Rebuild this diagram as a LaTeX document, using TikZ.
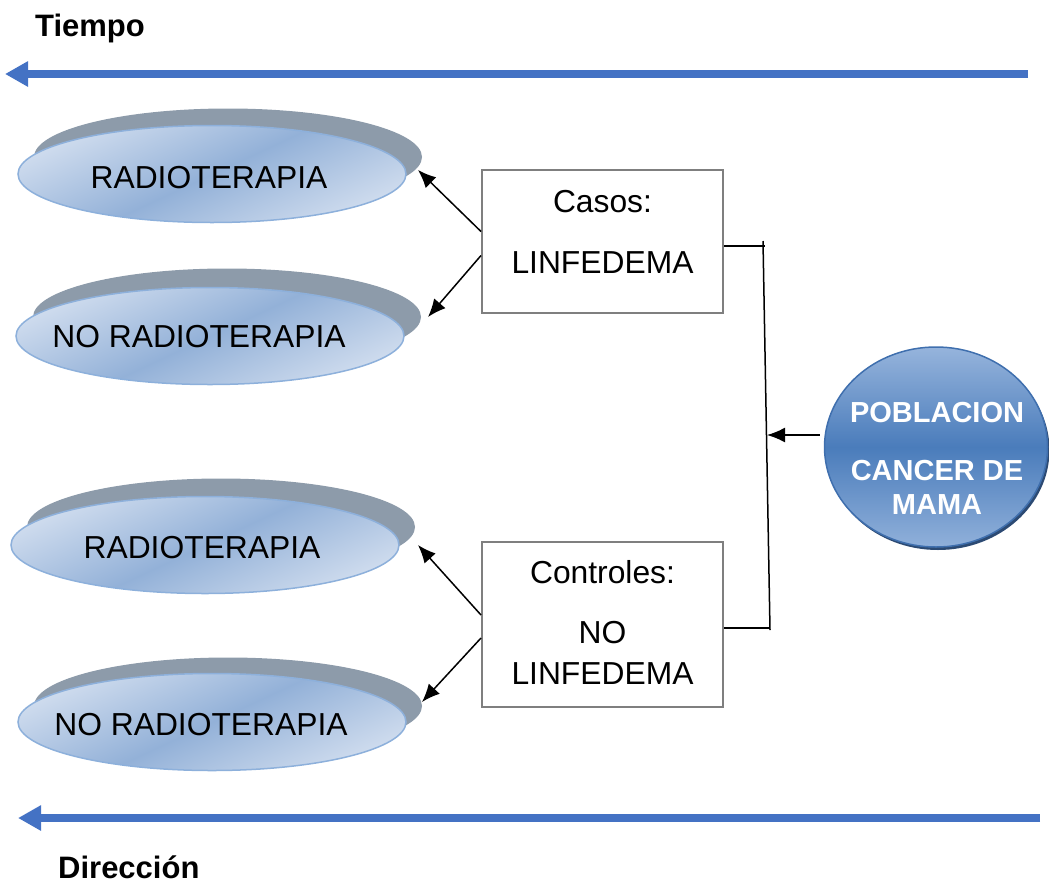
\documentclass[tikz,border=0pt]{standalone}
\usepackage{fontspec}
\setmainfont{Liberation Sans}
\usetikzlibrary{shapes.geometric,arrows.meta,calc}
\definecolor{barblue}{HTML}{4472C4}
\definecolor{shgray}{HTML}{8D9BAA}
\definecolor{elldark}{HTML}{93B1D8}
\definecolor{elllight}{HTML}{CFDCEE}
\definecolor{ellborder}{HTML}{8DB0DB}
\definecolor{popdark}{HTML}{4A7CBB}
\definecolor{poptop}{HTML}{96B4DC}
\definecolor{popbot}{HTML}{90B0DA}
\definecolor{popborder}{HTML}{3F6FAE}
\definecolor{popshadow}{HTML}{2C4A73}
\definecolor{boxgray}{HTML}{7F7F7F}
\tikzset{
  bigtxt/.style={font=\fontsize{31.8pt}{37pt}\selectfont, inner sep=0pt, anchor=base},
  boldtxt/.style={font=\fontsize{31pt}{37pt}\selectfont\bfseries, inner sep=0pt},
  poptxt/.style={font=\fontsize{29pt}{35pt}\selectfont\bfseries, text=white, inner sep=0pt, anchor=base},
  ellshadow/.style={ellipse, fill=shgray, minimum width=388pt, minimum height=97pt, inner sep=0pt},
  ellmain/.style={ellipse, draw=ellborder, line width=1.5pt, top color=elllight, bottom color=elllight, middle color=elldark, shading angle=25, minimum width=388pt, minimum height=97pt, inner sep=0pt},
  boxstyle/.style={rectangle, draw=boxgray, line width=2pt, minimum width=241pt, inner sep=0pt},
  bluearrow/.style={barblue, line width=8pt, -{Triangle[length=23pt,width=24pt]}},
  blackarrow/.style={black, line width=1.5pt, -{Latex[length=18pt,width=15pt]}},
  blackline/.style={black, line width=1.5pt},
}
\begin{document}
\begin{tikzpicture}[x=1pt,y=-1pt]
\useasboundingbox (0,0) rectangle (1049,884);

% time arrows
\node[boldtxt, anchor=base west] (tiempo) at (35,36) {Tiempo};
\coordinate (topR) at (1028,74);
\coordinate (topL) at (5,74);
\draw[bluearrow] (topR) -- (topL);
\coordinate (botR) at (1040,818);
\coordinate (botL) at (18,818);
\draw[bluearrow] (botR) -- (botL);
\node[boldtxt, anchor=base west] (direccion) at (58,878) {Dirección};

% ellipses
\node[ellshadow] (s1) at (228,157) {};
\node[ellmain] (e1) at (212,174) {};
\node[bigtxt] (t1) at (209,188) {RADIOTERAPIA};

\node[ellshadow] (s2) at (227,317) {};
\node[ellmain] (e2) at (210,336) {};
\node[bigtxt] (t2) at (199,347) {NO RADIOTERAPIA};

\node[ellshadow] (s3) at (221,527) {};
\node[ellmain] (e3) at (205,545) {};
\node[bigtxt] (t3) at (202,558) {RADIOTERAPIA};

\node[ellshadow] (s4) at (228,706) {};
\node[ellmain] (e4) at (212,722) {};
\node[bigtxt] (t4) at (201,735) {NO RADIOTERAPIA};

% boxes
\node[boxstyle, minimum height=143pt] (casos) at (602.5,241.5) {};
\node[bigtxt] (casosA) at (602.5,212) {Casos:};
\node[bigtxt] (casosB) at (602.5,273) {LINFEDEMA};

\node[boxstyle, minimum height=165pt] (ctrl) at (602.5,624.5) {};
\node[bigtxt] (ctrlA) at (602.5,583) {Controles:};
\node[bigtxt] (ctrlB) at (602.5,643) {NO};
\node[bigtxt] (ctrlC) at (602.5,684) {LINFEDEMA};

% population circle
\node[ellipse, fill=popshadow, minimum width=223pt, minimum height=200pt, inner sep=0pt] (popsh) at (938,450) {};
\node[ellipse, draw=popborder, line width=1.5pt, top color=poptop, bottom color=popbot, middle color=popdark, minimum width=223pt, minimum height=200pt, inner sep=0pt] (pop) at (936,447) {};
\node[poptxt] (popA) at (937,422) {POBLACION};
\node[poptxt] (popB) at (937,480) {CANCER DE};
\node[poptxt] (popC) at (937,514) {MAMA};

% arrow tips on ellipses
\coordinate (a1) at (418,170);
\coordinate (a2) at (428,317);
\coordinate (a3) at (418,545);
\coordinate (a4) at (422,702);
\draw[blackarrow] ([yshift=10pt]casos.west) -- (a1);
\draw[blackarrow] ([yshift=-14pt]casos.west) -- (a2);
\draw[blackarrow] ([yshift=9.5pt]ctrl.west) -- (a3);
\draw[blackarrow] ([yshift=-13.5pt]ctrl.west) -- (a4);

% bracket
\coordinate (vt) at (763,241);
\coordinate (vb) at (770,630);
\coordinate (ht) at (765,246);
\coordinate (hb) at (770,628);
\coordinate (vm) at (767,435);
\draw[blackline] (vt) -- (vb);
\draw[blackline] ([yshift=-4.5pt]casos.east) -- (ht);
\draw[blackline] ([yshift=-3.5pt]ctrl.east) -- (hb);
\draw[blackarrow] ([yshift=12pt,xshift=-4pt]pop.west) -- (vm);
\end{tikzpicture}
\end{document}
